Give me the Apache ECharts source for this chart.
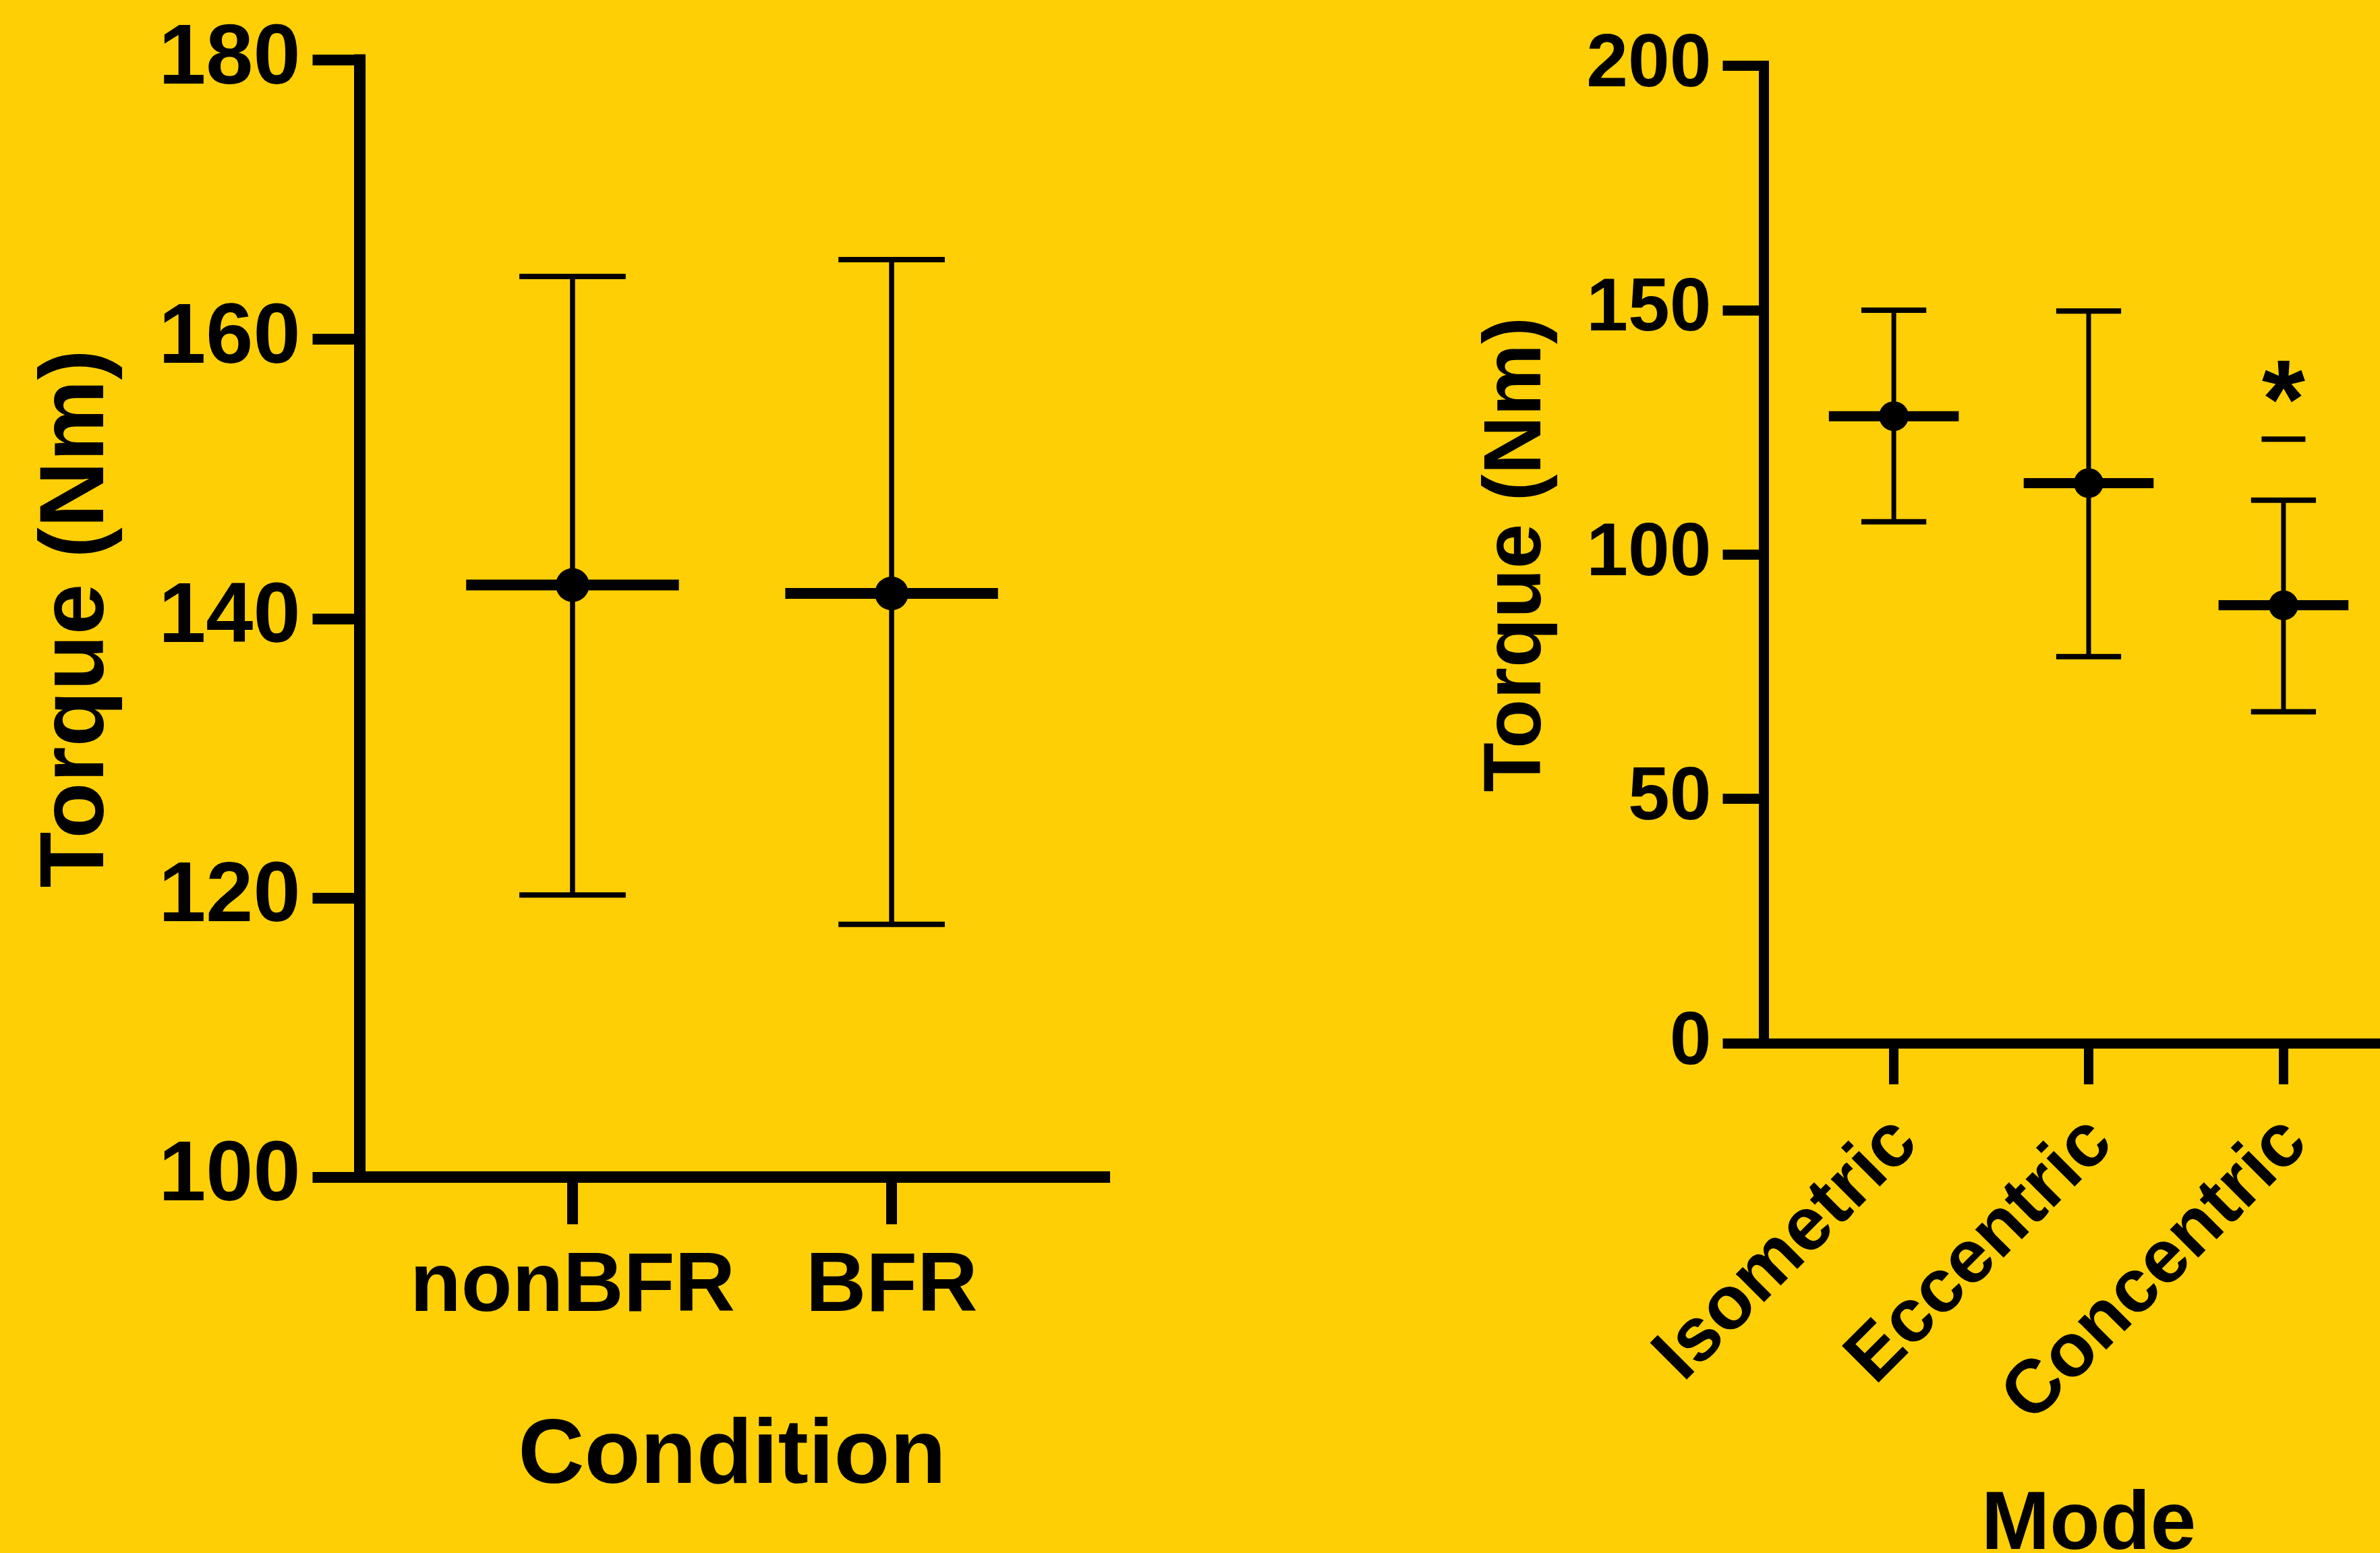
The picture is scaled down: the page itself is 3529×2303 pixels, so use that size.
<!DOCTYPE html>
<html>
<head>
<meta charset="utf-8">
<script src="https://cdn.jsdelivr.net/npm/echarts@6/dist/echarts.min.js"></script>
<style>
html,body{margin:0;padding:0;background:#FFCF05;}
#chart{width:3529px;height:2303px;}
</style>
</head>
<body>
<div id="chart"></div>
<script>
// ---- Left panel: Condition ----
const condCats = ['nonBFR', 'BFR'];
const condMean = [142.4, 141.8];
const condUpper = [164.5, 165.7];
const condLower = [120.2, 118.1];
const condYTicks = { min: 100, max: 180, interval: 20 };

// ---- Right panel: Mode ----
const modeCats = ['Isometric', 'Eccentric', 'Concentric'];
const modeMean = [128.3, 114.6, 89.6];
const modeUpper = [150.0, 149.8, 111.1];
const modeLower = [106.7, 79.1, 67.8];
const modeSigBar = [null, null, 123.6];
const modeSigLabel = ['', '', '*'];
const modeYTicks = { min: 0, max: 200, interval: 50 };

const FONT = "'Liberation Sans', Arial, Helvetica, sans-serif";
const BLACK = '#000000';

function buildData(mean, lower, upper) {
  return mean.map((m, i) => [i + 1, m, lower[i], upper[i]]);
}

function makeRender(cfg, sigBar, sigLabel) {
  return function (params, api) {
    const x = api.value(0), m = api.value(1), lo = api.value(2), hi = api.value(3);
    const pLo = api.coord([x, lo]);
    const pHi = api.coord([x, hi]);
    const pM = api.coord([x, m]);
    const mL = api.coord([x - cfg.meanHalf, m]);
    const mR = api.coord([x + cfg.meanHalf, m]);
    const cL = api.coord([x - cfg.capHalf, hi]);
    const cR = api.coord([x + cfg.capHalf, hi]);
    const dL = api.coord([x - cfg.capHalf, lo]);
    const dR = api.coord([x + cfg.capHalf, lo]);
    const st = { stroke: BLACK, fill: null };
    const children = [
      { type: 'line', shape: { x1: pLo[0], y1: pLo[1], x2: pHi[0], y2: pHi[1] }, style: Object.assign({ lineWidth: cfg.errW }, st) },
      { type: 'line', shape: { x1: cL[0], y1: cL[1], x2: cR[0], y2: cR[1] }, style: Object.assign({ lineWidth: cfg.capW }, st) },
      { type: 'line', shape: { x1: dL[0], y1: dL[1], x2: dR[0], y2: dR[1] }, style: Object.assign({ lineWidth: cfg.capW }, st) },
      { type: 'line', shape: { x1: mL[0], y1: mL[1], x2: mR[0], y2: mR[1] }, style: Object.assign({ lineWidth: cfg.meanW }, st) },
      { type: 'circle', shape: { cx: pM[0], cy: pM[1], r: cfg.dotR }, style: { fill: BLACK } }
    ];
    const i = params.dataIndex;
    if (sigBar && sigBar[i] != null) {
      const sL = api.coord([x - cfg.sigHalf, sigBar[i]]);
      const sR = api.coord([x + cfg.sigHalf, sigBar[i]]);
      children.push({ type: 'line', shape: { x1: sL[0], y1: sL[1], x2: sR[0], y2: sR[1] }, style: Object.assign({ lineWidth: cfg.capW }, st) });
      children.push({
        type: 'text',
        style: {
          x: (sL[0] + sR[0]) / 2, y: sL[1] - cfg.starGap,
          text: sigLabel[i], fill: BLACK,
          font: 'bold ' + cfg.starSize + 'px ' + FONT,
          align: 'center', verticalAlign: 'middle'
        }
      });
    }
    return { type: 'group', children: children };
  };
}

const chart = echarts.init(document.getElementById('chart'), null, { renderer: 'canvas' });

const txt = (size) => ({ color: BLACK, fontFamily: FONT, fontWeight: 'bold', fontSize: size });

// rotated labels sit slightly right of their ticks in the reference
const modeLabelShift = 0.062;

const option = {
  backgroundColor: '#FFCF05',
  animation: false,
  grid: [
    { left: 533.5, top: 89, width: 1104, height: 1656.5, containLabel: false, outerBoundsMode: 'none' },
    { left: 2615.5, top: 97.5, width: 963, height: 1449.5, containLabel: false, outerBoundsMode: 'none' }
  ],
  xAxis: [
    {
      type: 'value', gridIndex: 0, min: 1 / 3, max: 8 / 3,
      splitLine: { show: false },
      axisLine: { show: true, onZero: false, lineStyle: { color: BLACK, width: 17, cap: 'square' } },
      axisTick: { show: true, customValues: [1, 2], length: 70, lineStyle: { color: BLACK, width: 16 } },
      axisLabel: Object.assign({ customValues: [1, 2], margin: 102, formatter: (v) => condCats[Math.round(v) - 1] }, txt(124)),
      name: 'Condition', nameLocation: 'middle', nameGap: 348, nameTextStyle: txt(136)
    },
    {
      type: 'value', gridIndex: 1, min: 1 / 3, max: 11 / 3,
      splitLine: { show: false },
      axisLine: { show: true, onZero: false, lineStyle: { color: BLACK, width: 15, cap: 'square' } },
      axisTick: { show: true, customValues: [1, 2, 3], length: 61, lineStyle: { color: BLACK, width: 14 } },
      axisLabel: Object.assign({
        customValues: modeCats.map((c, i) => i + 1 + modeLabelShift),
        margin: 130, rotate: 45,
        formatter: (v) => modeCats[Math.round(v) - 1]
      }, txt(112)),
      name: 'Mode', nameLocation: 'middle', nameGap: 655, nameTextStyle: txt(122)
    }
  ],
  yAxis: [
    {
      type: 'value', gridIndex: 0, min: condYTicks.min, max: condYTicks.max, interval: condYTicks.interval,
      splitLine: { show: false },
      axisLine: { show: true, onZero: false, lineStyle: { color: BLACK, width: 17, cap: 'square' } },
      axisTick: { show: true, length: 70, lineStyle: { color: BLACK, width: 16 } },
      axisLabel: Object.assign({ margin: 88 }, txt(126)),
      name: 'Torque (Nm)', nameLocation: 'middle', nameGap: 350, nameRotate: 90, nameTextStyle: txt(136)
    },
    {
      type: 'value', gridIndex: 1, min: modeYTicks.min, max: modeYTicks.max, interval: modeYTicks.interval,
      splitLine: { show: false },
      axisLine: { show: true, onZero: false, lineStyle: { color: BLACK, width: 15, cap: 'square' } },
      axisTick: { show: true, length: 61, lineStyle: { color: BLACK, width: 15 } },
      axisLabel: Object.assign({ margin: 78 }, txt(111)),
      name: 'Torque (Nm)', nameLocation: 'middle', nameGap: 305, nameRotate: 90, nameTextStyle: txt(120)
    }
  ],
  series: [
    {
      type: 'custom', xAxisIndex: 0, yAxisIndex: 0, clip: false,
      encode: { x: 0, y: [1, 2, 3] },
      renderItem: makeRender({ meanHalf: 1 / 3, capHalf: 1 / 6, errW: 7.5, capW: 8, meanW: 16, dotR: 25 }),
      data: buildData(condMean, condLower, condUpper)
    },
    {
      type: 'custom', xAxisIndex: 1, yAxisIndex: 1, clip: false,
      encode: { x: 0, y: [1, 2, 3] },
      renderItem: makeRender({ meanHalf: 1 / 3, capHalf: 1 / 6, sigHalf: 0.1125, errW: 7, capW: 8, meanW: 15, dotR: 22, starGap: 48, starSize: 165 }, modeSigBar, modeSigLabel),
      data: buildData(modeMean, modeLower, modeUpper)
    }
  ]
};
chart.setOption(option);
</script>
</body>
</html>
